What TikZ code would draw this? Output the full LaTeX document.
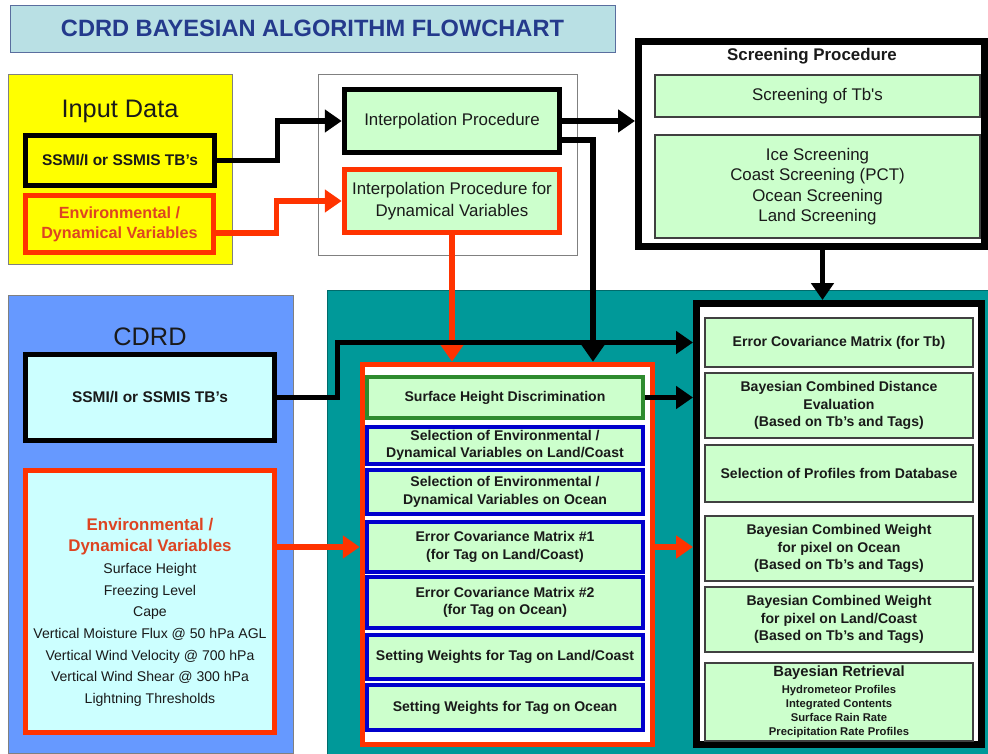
\documentclass[tikz,border=0pt]{standalone}
\usepackage{fontspec}
\setmainfont{Liberation Sans}
\usetikzlibrary{arrows.meta,calc}

\definecolor{yel}{HTML}{FFFF00}
\definecolor{envred}{HTML}{FF3300}
\definecolor{envtext}{HTML}{DD4422}
\definecolor{lgreen}{HTML}{CCFFCC}
\definecolor{lcyan}{HTML}{CCFFFF}
\definecolor{cdblue}{HTML}{6699FF}
\definecolor{tealc}{HTML}{009999}
\definecolor{ttlfill}{HTML}{B9E0E4}
\definecolor{ttlline}{HTML}{5A6E9E}
\definecolor{ttltext}{HTML}{243A8C}
\definecolor{selblue}{HTML}{0000CC}
\definecolor{shdgreen}{HTML}{2E8B2E}
\definecolor{boxline}{HTML}{808080}
\definecolor{txt}{HTML}{1A1A1A}

\newcommand\fs[2]{\fontsize{#1}{#2}\selectfont}

\begin{document}
\begin{tikzpicture}[x=0.025cm, y=-0.025cm,
  every node/.style={inner sep=0pt, align=center, text=txt},
  wh/.style 2 args={minimum width=#1*0.025cm, minimum height=#2*0.025cm},
  thin box/.style={draw=boxline, line width=0.6pt},
  blk box/.style={draw=black, line width=4pt},
  red box/.style={draw=envred, line width=4pt},
  mid box/.style={draw=selblue, line width=2.2pt, fill=lgreen, font=\bfseries\fs{10}{12.3}},
  res box/.style={draw=black!75, line width=0.8pt, fill=lgreen},
  flow/.style={line width=3.8pt, -{Triangle[length=0.42cm,width=0.55cm]}},
  blk flow/.style={flow, draw=black},
  red flow/.style={flow, draw=envred}]

\useasboundingbox (0,0) rectangle (988,754);

% title
\node[thin box, draw=ttlline, fill=ttlfill, wh={605}{47}, text=ttltext, font=\bfseries\fs{16.8}{18}] (ttl) at (312.5,28.5) {CDRD BAYESIAN ALGORITHM FLOWCHART};

% input data
\node[thin box, fill=yel, wh={224}{190}] (inBox) at (120,169) {};
\node[font=\fs{18}{20}] (inLbl) at (120,111) {Input Data};
\node[blk box, fill=yel, wh={189}{50}, font=\bfseries\fs{11}{13}] (inTb) at (120,160.5) {SSMI/I or SSMIS TB's};
\node[red box, fill=yel, wh={188}{57}, text=envtext, font=\bfseries\fs{11.5}{14.2}] (inEnv) at (119.5,224) {Environmental /\\Dynamical Variables};

% interpolation
\node[thin box, fill=white, wh={259}{181}] (ipBox) at (447.5,164.5) {};
\node[blk box, fill=lgreen, wh={215}{63}, font=\fs{12}{15.4}] (interp) at (452,121) {Interpolation Procedure};
\node[red box, fill=lgreen, wh={215}{63}, font=\fs{12}{15.4}] (dyn) at (452,201) {Interpolation Procedure for\\Dynamical Variables};

% screening
\node[draw=black, line width=5pt, fill=white, wh={346}{205}] (scr) at (811.5,144) {};
\node[font=\bfseries\fs{12}{14}] (scrLbl) at (812,56) {Screening Procedure};
\node[res box, wh={325}{42}, font=\fs{12}{14.5}] (scrTb) at (817.5,96) {Screening of Tb\textquotesingle s};
\node[res box, wh={325}{103}, font=\fs{12}{14.5}] (scrLst) at (817.5,186.5) {Ice Screening\\Coast Screening (PCT)\\Ocean Screening\\Land Screening};

% cdrd
\node[thin box, fill=cdblue, wh={285}{458}] (cdBox) at (150.5,524) {};
\node[font=\fs{18}{20}] (cdLbl) at (150,337) {CDRD};
\node[blk box, fill=lcyan, wh={249}{86}, font=\bfseries\fs{11}{13}] (cTb) at (150,397.5) {SSMI/I or SSMIS TB's};
\node[red box, fill=lcyan, wh={249}{262}, font=\fs{10}{15.4}] (cEnv) at (150,601.5) {{\bfseries\fs{12}{15.4}\color{envtext}\rule{0pt}{24pt}Environmental /}\\{\bfseries\fs{12}{15.4}\color{envtext}Dynamical Variables}\\Surface Height\\Freezing Level\\Cape\\Vertical Moisture Flux @ 50 hPa AGL\\Vertical Wind Velocity @ 700 hPa\\Vertical Wind Shear @ 300 hPa\\Lightning Thresholds};

% processing
\node[thin box, draw=tealc!70!black, fill=tealc, wh={661}{464}] (tealBox) at (657.5,522) {};
\node[red box, fill=white, wh={290}{380}] (mid) at (507.5,554.5) {};
\node[mid box, draw=shdgreen, wh={276}{41}] (shd) at (505,397.5) {Surface Height Discrimination};
\node[mid box, wh={276}{37}] (selL) at (505,445.5) {Selection of Environmental /\\Dynamical Variables on Land/Coast};
\node[mid box, wh={276}{44}] (selO) at (505,492) {Selection of Environmental /\\Dynamical Variables on Ocean};
\node[mid box, wh={276}{50}] (ecm1) at (505,547) {Error Covariance Matrix \#1\\(for Tag on Land/Coast)};
\node[mid box, wh={276}{51}] (ecm2) at (505,602.5) {Error Covariance Matrix \#2\\(for Tag on Ocean)};
\node[mid box, wh={276}{44}] (swL) at (505,657) {Setting Weights for Tag on Land/Coast};
\node[mid box, wh={276}{45}] (swO) at (505,707.5) {Setting Weights for Tag on Ocean};

% retrieval
\node[draw=black, line width=5pt, fill=white, wh={285}{441}] (rc) at (839,524) {};
\node[res box, wh={268}{49}, font=\bfseries\fs{10}{12.4}] (rEcm) at (839,342.5) {Error Covariance Matrix (for Tb)};
\node[res box, wh={268}{65}, font=\bfseries\fs{10}{12.4}] (bcd) at (839,405.5) {Bayesian Combined Distance\\Evaluation\\(Based on Tb's and Tags)};
\node[res box, wh={268}{57}, font=\bfseries\fs{10}{12.4}] (sel) at (839,473.5) {Selection of Profiles from Database};
\node[res box, wh={268}{65}, font=\bfseries\fs{10}{12.4}] (bwO) at (839,548.5) {Bayesian Combined Weight\\for pixel on Ocean\\(Based on Tb's and Tags)};
\node[res box, wh={268}{65}, font=\bfseries\fs{10}{12.4}] (bwL) at (839,619.5) {Bayesian Combined Weight\\for pixel on Land/Coast\\(Based on Tb's and Tags)};
\node[res box, wh={268}{78}, font=\bfseries\fs{8}{9.9}] (ret) at (839,702) {{\fs{10.5}{12}Bayesian Retrieval}\\[2pt]Hydrometeor Profiles\\Integrated Contents\\Surface Rain Rate\\Precipitation Rate Profiles};

% connectors
\coordinate (ipOut) at ($(interp.east)+(0,19)$);
\coordinate (scrOut) at ($(scr.south)+(11,0)$);
\draw[blk flow] (inTb.east) -- ++(60,0) |- (interp.west);
\draw[red flow] ($(inEnv.east)+(0,9)$) -- ++(60,0) |- (dyn.west);
\draw[blk flow] (interp.east) -- (interp.east -| scr.west);
\draw[blk flow] (ipOut) -| ($(mid.north)+(85.5,0)$);
\draw[red flow] (dyn.south) -- (dyn.south |- mid.north);
\draw[blk flow] (scrOut) -- (scrOut |- rc.north);
\draw[blk flow] (cTb.east) -- ++(60,0) |- (rEcm -| rc.west);
\draw[blk flow] (shd.east) -- (shd -| rc.west);
\draw[red flow] (cEnv.east |- ecm1) -- (ecm1 -| mid.west);
\draw[red flow] (ecm1 -| mid.east) -- (ecm1 -| rc.west);

\end{tikzpicture}
\end{document}
